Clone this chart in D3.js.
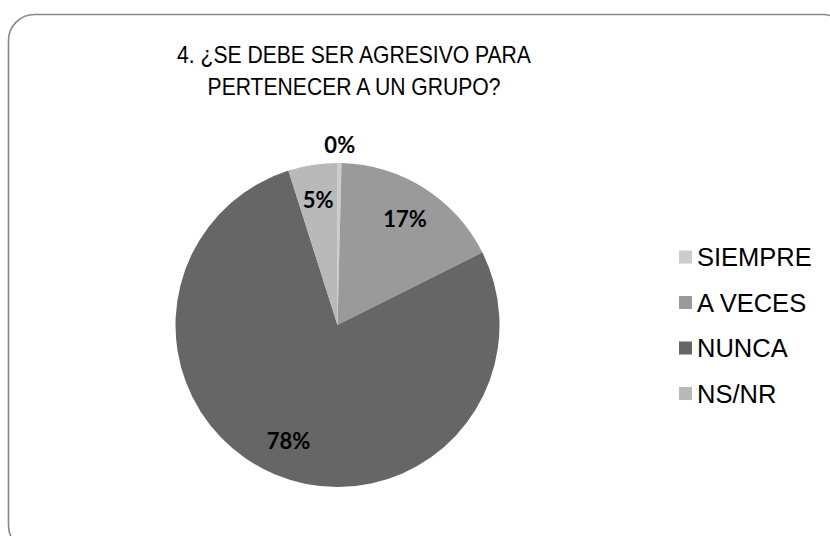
<!DOCTYPE html>
<html>
<head>
<meta charset="utf-8">
<script src="https://cdn.jsdelivr.net/npm/d3@7"></script>
<style>
  body { margin: 0; background: #fff; }
</style>
</head>
<body>
<div id="chart"></div>
<script>
const TITLE_LINES = ["4. ¿SE DEBE SER AGRESIVO PARA", "PERTENECER A UN GRUPO?"];
const categories = ["SIEMPRE", "A VECES", "NUNCA", "NS/NR"];
const values = [0.4, 17.2, 77.5, 4.9];
const colors = ["#cccccc", "#9a9a9a", "#666666", "#b9b9b9"];

const WIDTH = 830, HEIGHT = 536;
const CX = 337.5, CY = 325, R = 162;

const svg = d3.select("#chart").append("svg")
  .attr("width", WIDTH)
  .attr("height", HEIGHT);

// rounded frame (runs off the right and bottom edges)
svg.append("rect")
  .attr("x", 8.5).attr("y", 14.5)
  .attr("width", 840).attr("height", 537)
  .attr("rx", 26).attr("ry", 26)
  .attr("fill", "#fff")
  .attr("stroke", "#878787")
  .attr("stroke-width", 1.6);

// title, slightly condensed like the original
svg.append("g")
  .attr("transform", "translate(354,0) scale(0.88,1)")
  .selectAll("text")
  .data(TITLE_LINES)
  .join("text")
  .attr("x", 0)
  .attr("y", (d, i) => 63 + i * 32)
  .attr("text-anchor", "middle")
  .attr("font-family", "Liberation Sans, Arial, sans-serif")
  .attr("font-size", "24px")
  .attr("fill", "#000")
  .text(d => d);

const data = categories.map((c, i) => ({name: c, value: values[i], color: colors[i]}));

const pie = d3.pie().sort(null).value(d => d.value);
const arcs = pie(data);
const arc = d3.arc().innerRadius(0).outerRadius(R);
const labelArc = d3.arc().innerRadius(126).outerRadius(126);
const outerArc = d3.arc().innerRadius(180).outerRadius(180);

const g = svg.append("g").attr("transform", `translate(${CX},${CY})`);

g.selectAll("path")
  .data(arcs)
  .join("path")
  .attr("d", arc)
  .attr("fill", d => d.data.color);

// percentage labels; very thin slices are labelled outside the pie
g.selectAll("text")
  .data(arcs)
  .join("text")
  .attr("transform", d => {
    const small = (d.endAngle - d.startAngle) < 0.1;
    const p = small ? outerArc.centroid(d) : labelArc.centroid(d);
    return `translate(${p[0]},${p[1]})`;
  })
  .attr("text-anchor", "middle")
  .attr("dy", "0.36em")
  .attr("font-family", "Lato, 'Open Sans', sans-serif")
  .attr("font-weight", "bold")
  .attr("font-size", "22px")
  .attr("fill", "#000")
  .text(d => Math.round(d.data.value) + "%");

// legend
const legend = svg.append("g")
  .selectAll("g")
  .data(data)
  .join("g")
  .attr("transform", (d, i) => `translate(679,${257 + i * 45.5})`);

legend.append("rect")
  .attr("x", 0).attr("y", -6.5)
  .attr("width", 13).attr("height", 13)
  .attr("fill", d => d.color);

legend.append("text")
  .attr("x", 18)
  .attr("y", 0)
  .attr("dy", "0.36em")
  .attr("font-family", "Liberation Sans, Arial, sans-serif")
  .attr("font-size", "25.5px")
  .attr("fill", "#000")
  .text(d => d.name);
</script>
</body>
</html>
